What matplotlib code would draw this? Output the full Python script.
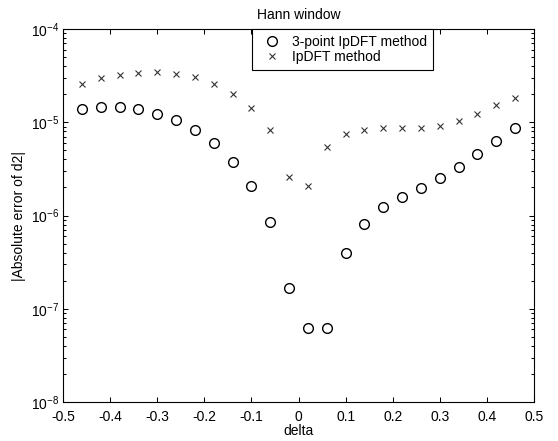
import numpy as np
import matplotlib
matplotlib.use('Agg')
import matplotlib.pyplot as plt
from matplotlib.ticker import LogLocator, NullFormatter

# Hann window, |error of d2| versus delta
delta = [-0.46, -0.42, -0.38, -0.34, -0.30, -0.26, -0.22, -0.18, -0.14, -0.10,
         -0.06, -0.02, 0.02, 0.06, 0.10, 0.14, 0.18, 0.22, 0.26, 0.30,
         0.34, 0.38, 0.42, 0.46]

err_3point = [1.39e-5, 1.46e-5, 1.46e-5, 1.38e-5, 1.24e-5, 1.05e-5, 8.3e-6, 5.98e-6,
              3.78e-6, 2.09e-6, 8.6e-7, 1.66e-7, 6.26e-8, 6.26e-8, 3.93e-7, 8.1e-7,
              1.22e-6, 1.59e-6, 1.99e-6, 2.52e-6, 3.31e-6, 4.53e-6, 6.3e-6, 8.74e-6]

err_ipdft = [2.57e-5, 2.96e-5, 3.21e-5, 3.40e-5, 3.48e-5, 3.29e-5, 3.05e-5, 2.57e-5,
             2.02e-5, 1.42e-5, 8.3e-6, 2.61e-6, 2.09e-6, 5.38e-6, 7.48e-6, 8.32e-6,
             8.75e-6, 8.75e-6, 8.75e-6, 9.19e-6, 1.03e-5, 1.22e-5, 1.52e-5, 1.84e-5]

plt.rcParams['font.family'] = ['Liberation Sans', 'DejaVu Sans']
plt.rcParams['font.size'] = 10
plt.rcParams['mathtext.fontset'] = 'custom'
plt.rcParams['mathtext.rm'] = 'Liberation Sans'
plt.rcParams['mathtext.default'] = 'regular'

fig = plt.figure(figsize=(5.58, 4.41), dpi=100)
ax = fig.add_axes([0.1129, 0.0884, 0.8441, 0.8458])

ax.plot(delta, err_3point, linestyle='none', marker='o', markersize=7,
        markerfacecolor='none', markeredgecolor='black', markeredgewidth=1.0,
        label='3-point IpDFT method')
ax.plot(delta, err_ipdft, linestyle='none', marker='x', markersize=4.5,
        color='#333333', markeredgewidth=0.8, label='IpDFT method')

ax.set_yscale('log')
ax.set_xlim(-0.5, 0.5)
ax.set_ylim(1e-8, 1e-4)
ax.set_xticks(np.arange(-0.5, 0.51, 0.1))
ax.set_xticklabels(['-0.5', '-0.4', '-0.3', '-0.2', '-0.1', '0',
                    '0.1', '0.2', '0.3', '0.4', '0.5'])
ax.yaxis.set_major_locator(LogLocator(base=10, numticks=10))
ax.yaxis.set_minor_locator(LogLocator(base=10, subs=np.arange(2, 10), numticks=10))
ax.yaxis.set_minor_formatter(NullFormatter())

ax.tick_params(which='both', direction='in', top=True, right=True, width=0.75)
ax.tick_params(which='major', length=3.5)
ax.tick_params(axis='x', which='major', pad=6)
ax.tick_params(axis='y', which='major', pad=3)
ax.tick_params(which='minor', length=2)
for s in ax.spines.values():
    s.set_linewidth(0.8)

ax.set_title('Hann window', fontsize=10, pad=7)
ax.set_xlabel('delta', labelpad=0)
ax.set_ylabel('|Absolute error of d2|', labelpad=3)

leg = ax.legend(loc='upper left', bbox_to_anchor=(0.401, 1.0), borderaxespad=0,
                fancybox=False, framealpha=1, edgecolor='black',
                handlelength=1.98, handletextpad=0.45, borderpad=0.45,
                labelspacing=0.05)
leg.get_frame().set_linewidth(0.8)

fig.savefig('out.png', dpi=100, facecolor='white')
